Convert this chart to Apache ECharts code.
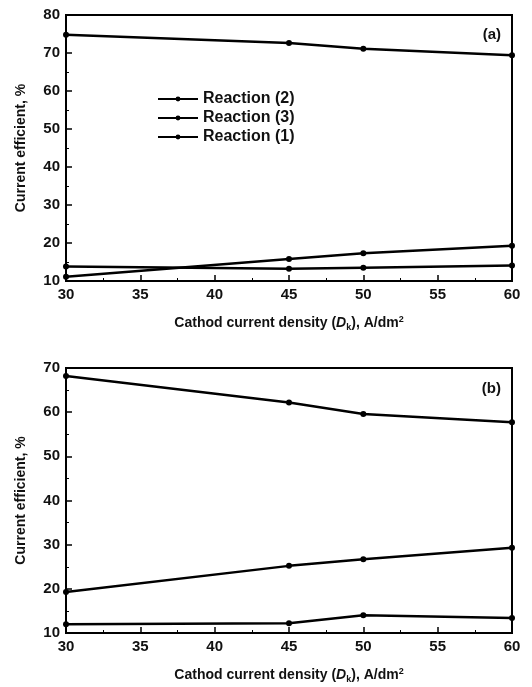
<!DOCTYPE html>
<html>
<head>
<meta charset="utf-8">
<script src="https://cdn.jsdelivr.net/npm/echarts@6/dist/echarts.min.js"></script>
<style>
  html, body { margin: 0; padding: 0; background: #fff; }
  #chart { width: 532px; height: 687px; }
</style>
</head>
<body>
<div id="chart"></div>
<script>
// current density, A/dm2
const density = [30, 45, 50, 60]

// panel (a)
const aReaction2 = [74.8, 72.6, 71.1, 69.4]
const aReaction3 = [11.1, 15.8, 17.3, 19.3]
const aReaction1 = [13.8, 13.2, 13.5, 14.1]

// panel (b)
const bReaction2 = [68.2, 62.2, 59.6, 57.7]
const bReaction3 = [19.3, 25.2, 26.7, 29.3]
const bReaction1 = [12.0, 12.2, 14.0, 13.4]

const seriesNames = ['Reaction (2)', 'Reaction (3)', 'Reaction (1)']

const font = 'Liberation Sans, Arial, sans-serif'
const chart = echarts.init(document.getElementById('chart'))

function pairs(ys) {
  return density.map((x, i) => [x, ys[i]])
}

function xAxisFor(gridIndex) {
  return {
    type: 'value', gridIndex, min: 30, max: 60, interval: 5,
    name: '{t|Cathod current density (}{i|D}{s|k}{t|), A/dm}{sup|2}',
    nameLocation: 'middle', nameGap: 34,
    nameTextStyle: {
      rich: {
        t: { fontFamily: font, fontSize: 14, fontWeight: 'bold', color: '#111' },
        i: { fontFamily: font, fontSize: 14, fontWeight: 'bold', fontStyle: 'italic', color: '#111' },
        s: { fontFamily: font, fontSize: 9, fontWeight: 'bold', color: '#111', verticalAlign: 'bottom', padding: [8, 0, 0, 0] },
        sup: { fontFamily: font, fontSize: 9, fontWeight: 'bold', color: '#111', verticalAlign: 'top', padding: [0, 0, 8, 0] }
      }
    },
    axisLine: { lineStyle: { color: '#000', width: 2 } },
    axisTick: { inside: true, length: 6, lineStyle: { color: '#000', width: 1.5 } },
    minorTick: { show: true, splitNumber: 2, length: 3, lineStyle: { color: '#000', width: 1 } },
    axisLabel: { fontFamily: font, fontSize: 15, fontWeight: 'bold', color: '#111', margin: 6 },
    splitLine: { show: false }
  }
}

function yAxisFor(gridIndex, max) {
  return {
    type: 'value', gridIndex, min: 10, max, interval: 10,
    name: 'Current efficient, %', nameLocation: 'middle', nameGap: 38,
    nameTextStyle: { fontFamily: font, fontSize: 14, fontWeight: 'bold', color: '#111' },
    axisLine: { lineStyle: { color: '#000', width: 2 } },
    axisTick: { inside: true, length: 6, lineStyle: { color: '#000', width: 1.5 } },
    minorTick: { show: true, splitNumber: 2, length: 3, lineStyle: { color: '#000', width: 1 } },
    axisLabel: { fontFamily: font, fontSize: 15, fontWeight: 'bold', color: '#111', margin: 6 },
    splitLine: { show: false }
  }
}

function line(name, ys, idx, showInLegend) {
  return {
    name: showInLegend ? name : name + ' ',
    type: 'line', xAxisIndex: idx, yAxisIndex: idx,
    data: pairs(ys),
    symbol: 'circle', symbolSize: 6,
    itemStyle: { color: '#000' },
    lineStyle: { color: '#000', width: 2.5 },
    animation: false
  }
}

chart.setOption({
  backgroundColor: '#fff',
  title: [
    { text: '(a)', right: 26, top: 22, textStyle: { fontFamily: font, fontSize: 15, fontWeight: 'bold', color: '#111' } },
    { text: '(b)', right: 26, top: 376, textStyle: { fontFamily: font, fontSize: 15, fontWeight: 'bold', color: '#111' } }
  ],
  legend: {
    data: seriesNames,
    orient: 'vertical', left: 152, top: 86,
    itemWidth: 40, itemHeight: 6, itemGap: 3,
    textStyle: { fontFamily: font, fontSize: 16, fontWeight: 'bold', color: '#111' }
  },
  grid: [
    { left: 66, top: 15, width: 446, height: 266, show: true, borderColor: '#000', borderWidth: 2, backgroundColor: 'transparent' },
    { left: 66, top: 368, width: 446, height: 265, show: true, borderColor: '#000', borderWidth: 2, backgroundColor: 'transparent' }
  ],
  xAxis: [xAxisFor(0), xAxisFor(1)],
  yAxis: [yAxisFor(0, 80), yAxisFor(1, 70)],
  series: [
    line(seriesNames[0], aReaction2, 0, true),
    line(seriesNames[1], aReaction3, 0, true),
    line(seriesNames[2], aReaction1, 0, true),
    line(seriesNames[0], bReaction2, 1, false),
    line(seriesNames[1], bReaction3, 1, false),
    line(seriesNames[2], bReaction1, 1, false)
  ]
})
</script>
</body>
</html>
